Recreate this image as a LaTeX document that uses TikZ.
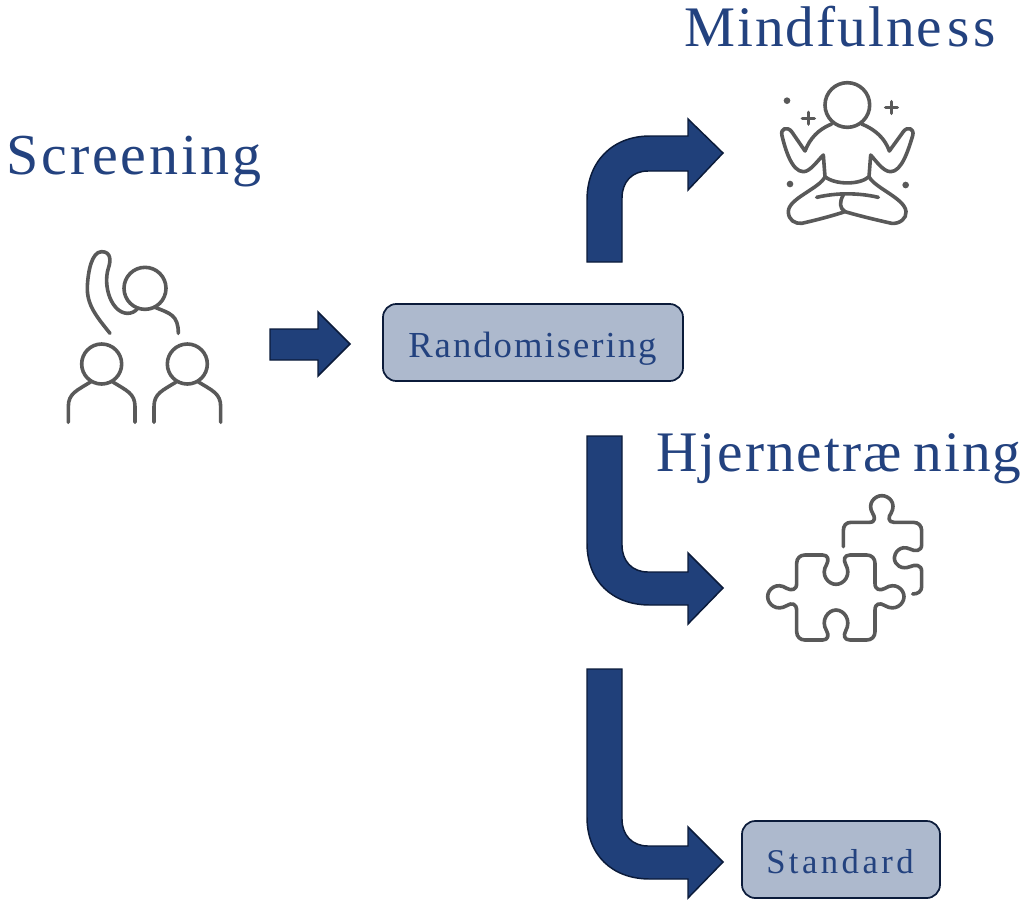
\documentclass[tikz,border=0pt]{standalone}
\usepackage{fontspec}
\setmainfont{Liberation Serif}
\definecolor{navy}{HTML}{20407A}
\definecolor{edgeN}{HTML}{0B1B3A}
\definecolor{boxF}{HTML}{ADB9CD}
\definecolor{icon}{HTML}{595959}
\definecolor{txt}{HTML}{23427F}
\tikzset{
  x=0.75pt,y=-0.75pt,
  block/.style={fill=navy,draw=edgeN,line width=1.1pt,line join=miter},
  box/.style={fill=boxF,draw=edgeN,line width=1.3pt,rounded corners=10pt,inner sep=0pt},
  title/.style={anchor=base west,inner sep=0pt,text=txt},
  ico/.style={draw=icon,line width=2.7pt,line cap=round,line join=round,fill=none},
  dot/.style={fill=icon,draw=none},
  zoomed/.style={x=0.25pt,y=-0.25pt}
}
\begin{document}
\begin{tikzpicture}
\useasboundingbox (0,0) rectangle (1025,901);
% boxes
\node[box,minimum width=225pt,minimum height=57.75pt] (rand) at (533,342.5) {};
\node[box,minimum width=148.5pt,minimum height=57.75pt] (std) at (841,859.5) {};
% titles
\node[title] (screening) at (6,174) {\fontsize{43.5pt}{50pt}\selectfont\addfontfeature{LetterSpace=5}Screening};
\node[title] (mind) at (684,46) {\fontsize{43pt}{50pt}\selectfont\addfontfeature{LetterSpace=3.5}Mindfulne\kern3.5pt s\kern3.5pt s};
\node[title] (hjerne) at (656,471) {\fontsize{43pt}{50pt}\selectfont\addfontfeature{LetterSpace=3.5}Hjernetræ\kern9pt ning};
\node[title] (randtxt) at (408,357) {\fontsize{27.5pt}{32pt}\selectfont\addfontfeature{LetterSpace=5.5}Randomisering};
\node[title] (stdtxt) at (766,873) {\fontsize{26pt}{30pt}\selectfont\addfontfeature{LetterSpace=10}Standard};
% block arrows
\path[block] (270,329) -- (318,329) -- (318,312) -- (350,344) -- (318,376) -- (318,360) -- (270,360) -- cycle;
\path[block] (587,262) -- (587,200) .. controls (587,162) and (612,136) .. (650,136) -- (688,136) -- (688,119) -- (723,153) -- (688,190) -- (688,171) -- (648,171) .. controls (632,171) and (622,182) .. (622,198) -- (622,262) -- cycle;
\path[block] (587,436) -- (587,543) .. controls (587,581) and (612,605) .. (650,605) -- (688,605) -- (688,624) -- (723,588) -- (688,553) -- (688,572) -- (648,572) .. controls (632,572) and (622,561) .. (622,545) -- (622,436) -- cycle;
\path[block] (587,669) -- (587,817) .. controls (587,855) and (612,879) .. (650,879) -- (688,879) -- (688,898) -- (723,862) -- (688,827) -- (688,846) -- (648,846) .. controls (632,846) and (622,835) .. (622,819) -- (622,669) -- cycle;
% screening icon
\begin{scope}[shift={(40,230)},zoomed]
\draw[ico] (315,175) circle[radius=63];
\draw[ico] (185,402) circle[radius=60];
\draw[ico] (442,402) circle[radius=60];
\draw[ico] (210,310) .. controls (170,260) and (140,225) .. (142,170) .. controls (144,125) and (155,65) .. (185,65) .. controls (215,65) and (212,95) .. (205,115) .. controls (188,170) and (215,248) .. (262,250) .. controls (275,250) and (285,245) .. (292,236);
\draw[ico] (345,232) .. controls (390,250) and (415,255) .. (415,310);
\draw[ico] (153,455) .. controls (110,482) and (85,490) .. (85,530) -- (85,577);
\draw[ico] (217,455) .. controls (260,482) and (285,490) .. (285,530) -- (285,577);
\draw[ico] (410,455) .. controls (367,482) and (342,490) .. (342,530) -- (342,577);
\draw[ico] (474,455) .. controls (517,482) and (542,490) .. (542,530) -- (542,577);
\end{scope}
% mindfulness icon
\begin{scope}[shift={(760,70)},zoomed]
\draw[ico] (262,105) circle[radius=67];
\draw[ico] (215,162) .. controls (175,178) and (150,205) .. (135,243) -- (95,185) .. controls (82,168) and (60,175) .. (66,197) .. controls (75,235) and (95,305) .. (130,305) .. controls (150,305) and (170,275) .. (190,255) -- (195,320) .. controls (225,345) and (300,345) .. (327,320) -- (332,255) .. controls (350,275) and (370,305) .. (392,305) .. controls (425,305) and (445,240) .. (458,197) .. controls (464,175) and (442,168) .. (430,185) -- (388,243) .. controls (375,205) and (345,178) .. (305,162);
\draw[ico] (195,320) .. controls (180,355) and (85,385) .. (85,425) .. controls (85,450) and (105,462) .. (125,460) .. controls (170,450) and (215,438) .. (255,425) .. controls (300,438) and (350,450) .. (395,460) .. controls (420,462) and (440,445) .. (438,425) .. controls (435,385) and (345,355) .. (327,320);
\draw[ico] (170,382) .. controls (230,368) and (295,368) .. (355,382);
\draw[ico] (250,375) .. controls (238,395) and (238,415) .. (255,425);
\fill[dot] (81,92) circle[radius=10];
\fill[dot] (90,342) circle[radius=10];
\fill[dot] (437,345) circle[radius=10];
\draw[ico] (127,145) -- (163,145) (145,127) -- (145,162);
\draw[ico] (377,113) -- (412,113) (394,95) -- (394,130);
\end{scope}
% puzzle icon
\begin{scope}[shift={(750,485)},zoomed]
\draw[ico] (280,185) -- (280,137) .. controls (280,122) and (288,112) .. (303,112) -- (358,112) .. controls (378,112) and (375,95) .. (368,85) .. controls (350,55) and (375,32) .. (395,32) .. controls (418,32) and (440,55) .. (423,85) .. controls (415,95) and (413,112) .. (432,112) -- (490,112) .. controls (505,112) and (515,122) .. (515,137) -- (515,178) .. controls (515,200) and (495,200) .. (480,192) .. controls (450,178) and (433,205) .. (433,218) .. controls (433,240) and (455,255) .. (480,245) .. controls (495,238) and (515,238) .. (515,260) -- (515,305) .. controls (515,318) and (505,327) .. (488,327);
\draw[ico] (165,210) -- (218,210) .. controls (235,210) and (237,225) .. (230,238) .. controls (210,270) and (235,298) .. (258,298) .. controls (282,298) and (305,270) .. (287,238) .. controls (280,225) and (282,210) .. (300,210) -- (350,210) .. controls (365,210) and (375,220) .. (375,235) -- (375,295) .. controls (375,315) and (390,318) .. (405,310) .. controls (435,290) and (462,312) .. (462,335) .. controls (462,358) and (435,380) .. (405,362) .. controls (390,352) and (375,355) .. (375,375) -- (375,440) .. controls (375,455) and (365,465) .. (350,465) -- (300,465) .. controls (282,465) and (280,450) .. (287,438) .. controls (305,405) and (282,375) .. (258,375) .. controls (235,375) and (210,405) .. (230,438) .. controls (237,450) and (235,465) .. (218,465) -- (165,465) .. controls (150,465) and (140,455) .. (140,440) -- (140,378) .. controls (140,355) and (125,352) .. (110,362) .. controls (80,380) and (53,358) .. (53,335) .. controls (53,312) and (80,290) .. (110,310) .. controls (125,318) and (140,315) .. (140,295) -- (140,235) .. controls (140,220) and (150,210) .. (165,210) -- cycle;
\end{scope}
\end{tikzpicture}
\end{document}
